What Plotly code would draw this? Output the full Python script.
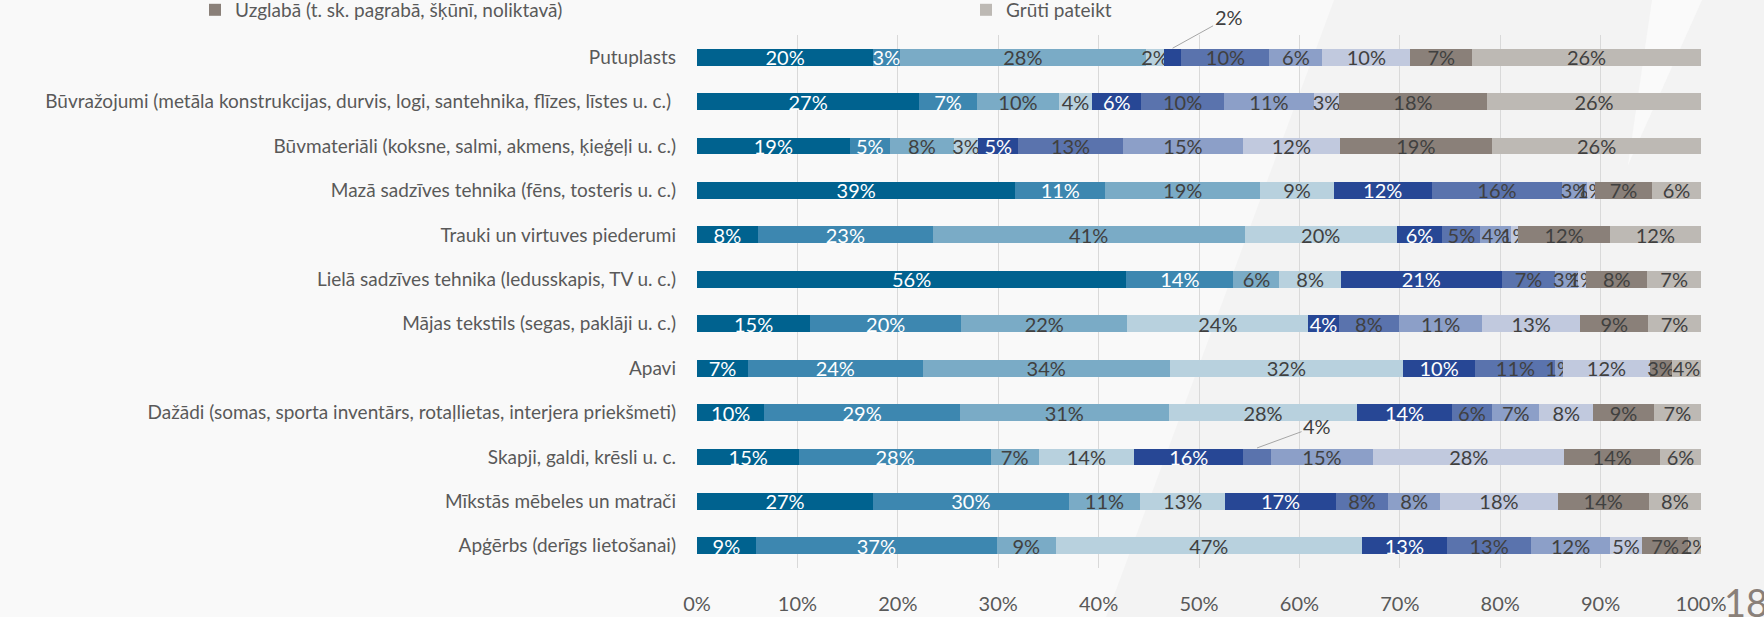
import plotly.graph_objects as go

# categories, top to bottom
categories = [
    "Putuplasts",
    "Būvražojumi (metāla konstrukcijas, durvis, logi, santehnika, flīzes, līstes u. c.)\u00a0",
    "Būvmateriāli (koksne, salmi, akmens, ķieģeļi u. c.)",
    "Mazā sadzīves tehnika (fēns, tosteris u. c.)",
    "Trauki un virtuves piederumi",
    "Lielā sadzīves tehnika (ledusskapis, TV u. c.)",
    "Mājas tekstils (segas, paklāji u. c.)",
    "Apavi",
    "Dažādi (somas, sporta inventārs, rotaļlietas, interjera priekšmeti)",
    "Skapji, galdi, krēsli u. c.",
    "Mīkstās mēbeles un matrači",
    "Apģērbs (derīgs lietošanai)",
]

# series values (%), one list per answer option, same order as categories
s1 = [20, 27, 19, 39, 8, 56, 15, 7, 10, 15, 27, 9]
s2 = [3, 7, 5, 11, 23, 14, 20, 24, 29, 28, 30, 37]
s3 = [28, 10, 8, 19, 41, 6, 22, 34, 31, 7, 11, 9]
s4 = [2, 4, 3, 9, 20, 8, 24, 32, 28, 14, 13, 47]
s5 = [2, 6, 5, 12, 6, 21, 4, 10, 14, 16, 17, 13]
s6 = [10, 10, 13, 16, 5, 7, 8, 11, 6, 4, 8, 13]
s7 = [6, 11, 15, 3, 4, 3, 11, 1, 7, 15, 8, 12]
s8 = [10, 3, 12, 1, 1, 1, 13, 12, 8, 28, 18, 5]
s9 = [7, 18, 19, 7, 12, 8, 9, 3, 9, 14, 14, 7]
s10 = [26, 26, 26, 6, 12, 7, 7, 4, 7, 6, 8, 2]

series = [s1, s2, s3, s4, s5, s6, s7, s8, s9, s10]
names = ["Atbilde 1", "Atbilde 2", "Atbilde 3", "Atbilde 4", "Atbilde 5",
         "Atbilde 6", "Atbilde 7", "Atbilde 8",
         "Uzglabā (t. sk. pagrabā, šķūnī, noliktavā)", "Grūti pateikt"]
colors = ["#00628f", "#3d87b0", "#7aabc6", "#b8d1de", "#274795",
          "#5a73ad", "#8c9fc8", "#c1c9de", "#8a8079", "#bdb9b4"]
text_colors = ["white", "white", "#404040", "#404040", "white",
               "#404040", "#404040", "#404040", "#404040", "#404040"]
in_legend = [False] * 8 + [True, True]

# labels moved outside the bar: (series index, category index, ax, ay)
callouts = [(4, 0, 56, -31), (5, 9, 60, -22)]

FONT = "Lato, sans-serif"
GREY = "#595959"

fig = go.Figure()
for i, vals in enumerate(series):
    labels = [f"{v}%" for v in vals]
    for si, ci, _, _ in callouts:
        if si == i:
            labels[ci] = ""
    fig.add_trace(go.Bar(
        y=categories, x=vals, name=names[i], orientation="h",
        marker=dict(color=colors[i], line=dict(width=0)),
        text=labels, textposition="inside", insidetextanchor="middle",
        textangle=0, constraintext="none",
        textfont=dict(family=FONT, size=20, color=text_colors[i]),
        showlegend=in_legend[i],
    ))

# callout annotations, placed at the segment centre (normalised to 100%)
for si, ci, ax, ay in callouts:
    total = sum(s[ci] for s in series)
    before = sum(series[k][ci] for k in range(si))
    xc = (before + series[si][ci] / 2) / total * 100
    fig.add_annotation(
        x=xc, y=categories[ci], yshift=9, text=f"{series[si][ci]}%",
        showarrow=True, arrowhead=0, arrowwidth=1, arrowcolor="#a6a6a6",
        ax=ax, ay=ay, font=dict(family=FONT, size=20, color="#404040"),
    )

# page number
fig.add_annotation(
    xref="paper", yref="paper", x=1.045, y=-0.064, text="18", showarrow=False,
    xanchor="center", yanchor="middle",
    font=dict(family=FONT, size=38, color="#8a8079"),
)

# faint watermark in the background
def px(x, y):
    return (x - 697) / 1004, (568 - y) / 533

def path(points):
    pts = [px(x, y) for x, y in points]
    return "M " + " L ".join(f"{a:.4f},{b:.4f}" for a, b in pts) + " Z"

fig.add_shape(type="path", xref="paper", yref="paper", layer="below",
              path=path([(1334, 0), (1764, 0), (1764, 617), (1106, 617)]),
              fillcolor="#f3f3f3", line=dict(width=0))
fig.add_shape(type="path", xref="paper", yref="paper", layer="below",
              path=path([(1652, 0), (1702, 0), (1628, 165)]),
              fillcolor="#fafafa", line=dict(width=0))

fig.update_layout(
    width=1764, height=617,
    barmode="stack", barnorm="percent", bargap=0.62,
    paper_bgcolor="#f9f9f9", plot_bgcolor="rgba(0,0,0,0)",
    margin=dict(l=697, r=63, t=35, b=49, autoexpand=False),
    font=dict(family=FONT, size=19, color=GREY),
    legend=dict(
        orientation="h", x=-0.5, xanchor="left", y=1.047, yanchor="middle",
        entrywidth=726, entrywidthmode="pixels", traceorder="normal",
        font=dict(family=FONT, size=19, color=GREY), bgcolor="rgba(0,0,0,0)",
    ),
)
fig.update_xaxes(
    range=[0, 100], dtick=10, ticksuffix="%", showgrid=True,
    gridcolor="#d9d9d9", gridwidth=1, zeroline=False, showline=False,
    tickfont=dict(family=FONT, size=20, color=GREY), ticklabelstandoff=22,
)
fig.update_yaxes(
    autorange="reversed", showgrid=False, showline=False, ticks="",
    tickfont=dict(family=FONT, size=19, color=GREY), ticklabelstandoff=20,
)

# the page's default body margin would shift the chart by 8px
fig.write_html(
    "out.html",
    config={"displayModeBar": False},
    post_script="document.body.style.margin='0';"
                "document.body.style.background='#f9f9f9';",
)
